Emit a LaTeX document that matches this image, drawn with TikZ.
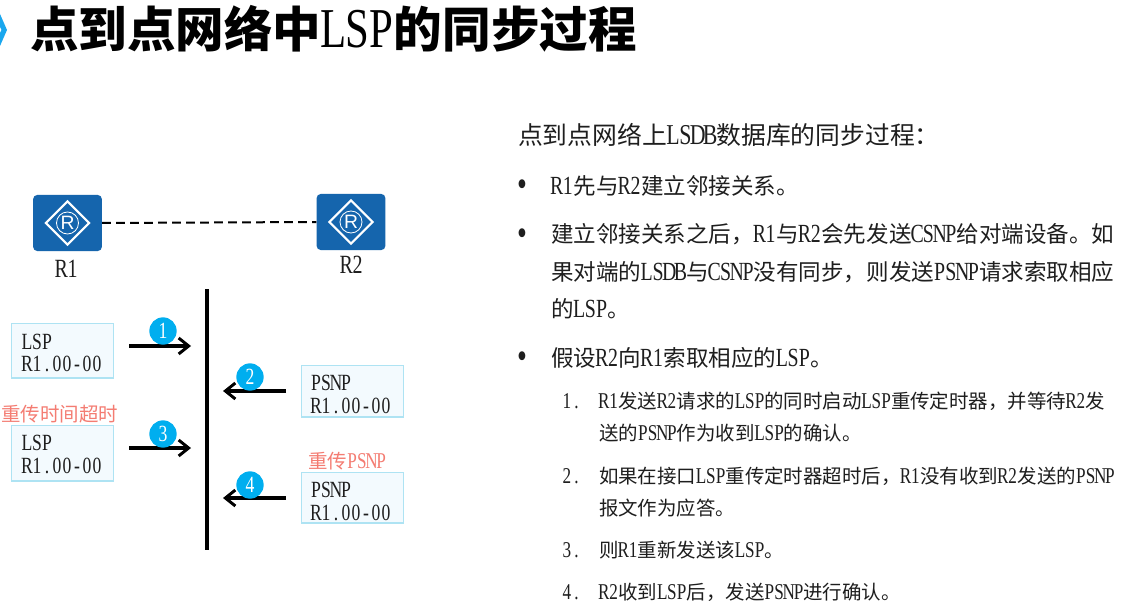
\documentclass[tikz,border=0pt]{standalone}
\usepackage{fontspec}
\usetikzlibrary{shapes.geometric,arrows.meta}
\setmainfont{Noto Sans CJK SC}
\newfontfamily\latinf{Liberation Serif}[FakeStretch=0.76,Scale=1.16]
\newfontfamily\heavyf{Noto Sans CJK SC Black}
\newfontfamily\rsans{Liberation Sans}
\newdimen\hwcell
\def\hw#1{{\hwcell=.5em\latinf\hwi#1\relax}}
\def\hwi#1{\ifx#1\relax\else\hbox to \hwcell{\hss#1\hss}\expandafter\hwi\fi}
\definecolor{ink}{HTML}{1E1E1E}
\definecolor{rblue}{HTML}{1565AD}
\definecolor{cyanb}{HTML}{00AEEF}
\definecolor{iconb}{HTML}{1AA7EE}
\definecolor{boxline}{HTML}{AEE3F3}
\definecolor{boxfill}{HTML}{F3FAFE}
\definecolor{redt}{HTML}{F47C72}
\tikzset{
  x=0.75pt,y=-0.75pt,
  txt/.style={anchor=base west,inner sep=0pt,outer sep=0pt,text=ink},
  hdr/.style={txt,font=\fontsize{18.6}{22}\selectfont},
  body/.style={txt,font=\fontsize{16.9}{20}\selectfont},
  bulletmark/.style={txt,font=\fontsize{24}{24}\selectfont},
  sub/.style={txt,font=\fontsize{14.6}{18}\selectfont},
  routerbox/.style={fill=rblue,rounded corners=3pt,minimum width=51.5pt,minimum height=42pt,inner sep=0pt},
  rdiamond/.style={diamond,draw=white,line width=1.6pt,minimum width=33pt,minimum height=33pt,inner sep=0pt,aspect=1},
  rletter/.style={circle,draw=white,line width=0.6pt,minimum size=16.5pt,inner sep=0pt,text=white,font=\fontsize{14.5}{15}\rsans},
  rname/.style={inner sep=0pt,text=ink,font=\fontsize{17}{20}\selectfont},
  pkt/.style={draw=boxline,fill=boxfill,line width=1.1pt,inner sep=0pt,anchor=north west},
  pkttxt/.style={txt,font=\fontsize{15}{18}\selectfont},
  num/.style={circle,fill=cyanb,minimum size=20.5pt,inner sep=0pt,text=white,font=\fontsize{15}{15}\selectfont},
  msg/.style={line width=2.4pt,-{Straight Barb[length=7.5pt,width=12pt,line width=2.2pt]}},
  redlab/.style={inner sep=0pt,anchor=base west,text=redt,font=\fontsize{14.6}{18}\selectfont},
}
\begin{document}
\begin{tikzpicture}
\useasboundingbox (0,0) rectangle (1121,613);
\fill[white] (0,0) rectangle (1121,613);
% title
\fill[iconb] (0,14) -- (7,30) -- (0,46) -- (0,33) -- (1.5,30) -- (0,27) -- cycle;
\node[txt,text=black,font=\fontsize{36.4}{40}\selectfont] (title) at (30,48) {{\heavyf 点到点网络中}\hw{LSP}{\heavyf 的同步过程}};
% routers
\node[routerbox] (r1) at (67.5,223) {};
\node[rdiamond] (d1) at (r1) {};
\node[rletter] (l1) at (r1) {R};
\node[routerbox] (r2) at (351,222) {};
\node[rdiamond] (d2) at (r2) {};
\node[rletter] (l2) at (r2) {R};
\draw[line width=1.5pt,dash pattern=on 6.5pt off 4pt] (r1.east) -- (r2.west);
\node[rname] (n1) at (67,269) {\hw{R1}};
\node[rname] (n2) at (352,265) {\hw{R2}};
% divider
\coordinate (vt) at (207,289);
\coordinate (vb) at (207,550);
\draw[line width=2.4pt] (vt) -- (vb);
% packets
\node[pkt,minimum width=76.2pt,minimum height=40.6pt] (p1) at (11,323) {};
\node[pkttxt] (p1a) at (22,349) {\hw{LSP}};
\node[pkttxt] (p1b) at (22,371) {\hw{R1.00-00}};
\node[pkt,minimum width=76.2pt,minimum height=38.6pt] (p2) at (301,365) {};
\node[pkttxt] (p2a) at (311,390) {\hw{PSNP}};
\node[pkttxt] (p2b) at (311,413) {\hw{R1.00-00}};
\node[pkt,minimum width=76.2pt,minimum height=41.6pt] (p3) at (11,425) {};
\node[pkttxt] (p3a) at (22,450) {\hw{LSP}};
\node[pkttxt] (p3b) at (22,473) {\hw{R1.00-00}};
\node[pkt,minimum width=76.2pt,minimum height=37.6pt] (p4) at (301,472) {};
\node[pkttxt] (p4a) at (311,497) {\hw{PSNP}};
\node[pkttxt] (p4b) at (311,520) {\hw{R1.00-00}};
\node[redlab] (t1) at (1,421) {重传时间超时};
\node[redlab] (t2) at (308,468) {重传\hw{PSNP}};
% messages
\coordinate (a1s) at (129,346); \coordinate (a1e) at (191,346);
\coordinate (a2s) at (286,391); \coordinate (a2e) at (223,391);
\coordinate (a3s) at (129,448); \coordinate (a3e) at (191,448);
\coordinate (a4s) at (286,498); \coordinate (a4e) at (223,498);
\draw[msg] (a1s) -- (a1e);
\draw[msg] (a2s) -- (a2e);
\draw[msg] (a3s) -- (a3e);
\draw[msg] (a4s) -- (a4e);
\node[num] (c1) at (163,331) {\hw{1}};
\node[num] (c2) at (250,377) {\hw{2}};
\node[num] (c3) at (163,434) {\hw{3}};
\node[num] (c4) at (250,485) {\hw{4}};
% right text
\node[hdr] (h) at (518,145) {点到点网络上\hw{LSDB}数据库的同步过程：};
\node[bulletmark] (b1m) at (514,197) {\hw{•}};
\node[body] (b1) at (551,195) {\hw{R1}先与\hw{R2}建立邻接关系。};
\node[bulletmark] (b2m) at (514,245) {\hw{•}};
\node[body] (b2) at (551,243) {建立邻接关系之后，\hw{R1}与\hw{R2}会先发送\hw{CSNP}给对端设备。如};
\node[body] (b2b) at (551,280) {果对端的\hw{LSDB}与\hw{CSNP}没有同步，则发送\hw{PSNP}请求索取相应};
\node[body] (b2c) at (551,317) {的\hw{LSP}。};
\node[bulletmark] (b3m) at (514,368) {\hw{•}};
\node[body] (b3) at (551,366) {假设\hw{R2}向\hw{R1}索取相应的\hw{LSP}。};
\node[sub] (s1m) at (562,408) {\hw{1.}};
\node[sub] (s1) at (599,408) {\hw{R1}发送\hw{R2}请求的\hw{LSP}的同时启动\hw{LSP}重传定时器，并等待\hw{R2}发};
\node[sub] (s1b) at (599,440) {送的\hw{PSNP}作为收到\hw{LSP}的确认。};
\node[sub] (s2m) at (562,483) {\hw{2.}};
\node[sub] (s2) at (599,483) {如果在接口\hw{LSP}重传定时器超时后，\hw{R1}没有收到\hw{R2}发送的\hw{PSNP}};
\node[sub] (s2b) at (599,515) {报文作为应答。};
\node[sub] (s3m) at (562,557) {\hw{3.}};
\node[sub] (s3) at (599,557) {则\hw{R1}重新发送该\hw{LSP}。};
\node[sub] (s4m) at (562,599) {\hw{4.}};
\node[sub] (s4) at (599,599) {\hw{R2}收到\hw{LSP}后，发送\hw{PSNP}进行确认。};
\end{tikzpicture}
\end{document}
